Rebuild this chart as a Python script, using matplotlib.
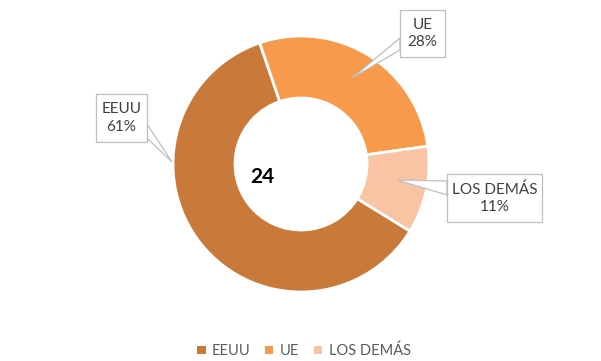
"""Donut chart: share by destination, with callout labels"""

import matplotlib

matplotlib.use("Agg")
import matplotlib.pyplot as plt
from matplotlib.patches import Polygon, Rectangle

W, H = 601, 361

LABELS = ["EEUU", "UE", "LOS DEMÁS"]
VALUES = [61, 28, 11]
COLORS = ["#C97A3B", "#F79A4B", "#F8C4A4"]
CENTER_TEXT = "24"

# callout boxes in pixel coords (left, top, right, bottom), pointer tip, pointer base
CALLOUTS = [
    ((96, 94, 147, 142), (172, 162), ((147, 124), (147, 138))),
    ((400, 10, 445, 57), (352, 78), ((400, 38), (400, 50))),
    ((447, 174, 542, 222), (397, 180), ((447, 181), (447, 195))),
]

plt.rcParams["font.family"] = ["Lato", "DejaVu Sans"]
TEXT_COLOR = "#404040"


def py(y):
    "pixel row -> data y (y up)"
    return H - y


fig = plt.figure(figsize=(W / 100, H / 100), dpi=100)
ax = fig.add_axes([0, 0, 1, 1])

cx, cy, r_out, r_in = 301, 164, 128, 66
wedges, _ = ax.pie(
    VALUES,
    colors=COLORS,
    startangle=-31.6,
    counterclock=False,
    center=(cx, py(cy)),
    radius=r_out,
    wedgeprops=dict(width=r_out - r_in, edgecolor="white", linewidth=2),
)

ax.set_xlim(0, W)
ax.set_ylim(0, H)
ax.set_aspect("auto")
ax.axis("off")

ax.text(262, py(177), CENTER_TEXT, fontsize=15, fontweight="bold",
        ha="center", va="center", color="black")

for i, ((l, t, r, b), tip, base) in enumerate(CALLOUTS):
    tri = Polygon(
        [(base[0][0], py(base[0][1])), (tip[0], py(tip[1])), (base[1][0], py(base[1][1]))],
        closed=True, facecolor="white", edgecolor="#BFBFBF", linewidth=0.9, zorder=5,
    )
    ax.add_patch(tri)
    box = Rectangle((l, py(b)), r - l, b - t, facecolor="white",
                    edgecolor="#BFBFBF", linewidth=0.9, zorder=6)
    ax.add_patch(box)
    ax.text((l + r) / 2, py((t + b) / 2), f"{LABELS[i]}\n{VALUES[i]}%",
            ha="center", va="center", fontsize=11, color=TEXT_COLOR,
            linespacing=1.3, zorder=7)

ax.legend(
    wedges, LABELS, ncol=3, loc="center",
    bbox_to_anchor=(304 / W, 1 - 351 / H), frameon=False,
    handlelength=0.55, handleheight=0.55, handletextpad=0.45,
    columnspacing=1.0, fontsize=10.5, labelcolor="#595959",
)
for h in ax.get_legend().legend_handles:
    h.set_edgecolor("none")

fig.savefig("out.png", dpi=100)
